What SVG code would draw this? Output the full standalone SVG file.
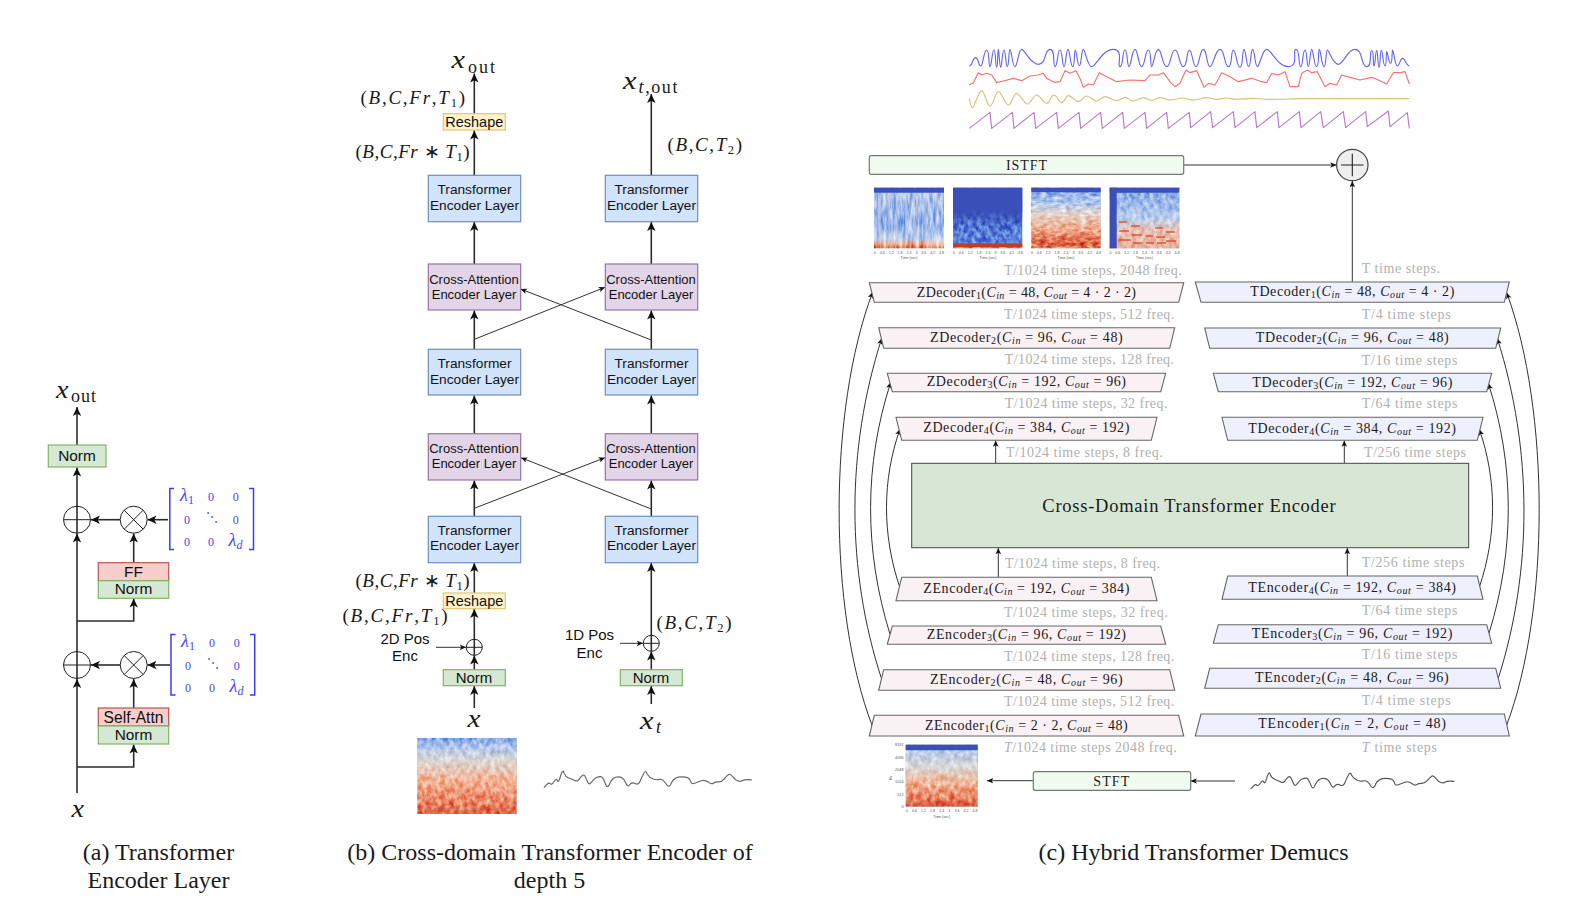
<svg xmlns="http://www.w3.org/2000/svg" width="1572" height="903" viewBox="0 0 1572 903">
<style>
text{font-family:"Liberation Serif","Times New Roman",serif;fill:#1a1a1a}
.s{font-family:"Liberation Sans",Arial,sans-serif;fill:#111}
.c{text-anchor:middle}
.cap{font-size:24px}
.g{font-size:14px;fill:#b0b0b0}
.t{font-size:14px}
.i{font-style:italic}
.sb{font-size:10px}
.m{font-size:19px}
.bx{font-size:25px;font-style:italic}
.ln{font-size:18px}
.bl{font-size:12px;fill:#4646ff}
.bli{font-size:18px;font-style:italic;fill:#4646ff}
.tk{font-size:3.6px;font-family:"Liberation Sans",sans-serif;fill:#555;text-anchor:middle;word-spacing:2.9px}
.tk2{font-size:3.8px;font-family:"Liberation Sans",sans-serif;fill:#555}
.a{fill:none;stroke:#2c2c2c;stroke-width:1.6;marker-end:url(#big)}
.th{fill:none;stroke:#333;stroke-width:1;marker-end:url(#sm)}
.gr{fill:#d5e8d4;stroke:#82b366;stroke-width:1.2}
.rd{fill:#f8cecc;stroke:#b85450;stroke-width:1.2}
.bu{fill:#d2e4fc;stroke:#6c8ebf;stroke-width:1.2}
.pu{fill:#e1d5e7;stroke:#9673a6;stroke-width:1.2}
.ye{fill:#fff2cc;stroke:#e6c56a;stroke-width:1.2}
.z{fill:#faf1f4;stroke:#666;stroke-width:1.1}
.u{fill:#eff0fd;stroke:#666;stroke-width:1.1}
.lt{fill:#f1fcf0;stroke:#777;stroke-width:1.2}
.o{fill:none;stroke:#222;stroke-width:1}
.br{fill:none;stroke:#3c3cf0;stroke-width:1.5}
.wv{fill:none;stroke-width:3.4;stroke-linejoin:round}
</style>
<defs>
<marker id="big" markerUnits="userSpaceOnUse" markerWidth="10" markerHeight="10" viewBox="0 0 10 10" refX="9" refY="5" orient="auto"><path d="M0 .8L9 5L0 9.2L2.3 5z" fill="#111"/></marker>
<marker id="sm" markerUnits="userSpaceOnUse" markerWidth="7" markerHeight="7" viewBox="0 0 10 10" refX="9" refY="5" orient="auto"><path d="M0 1L9 5L0 9L2.3 5z" fill="#111"/></marker>
<linearGradient id="s0" x1="0" y1="0" x2="0" y2="1"><stop offset="0" stop-color="#7fa2e8"/><stop offset=".12" stop-color="#b3c8ec"/><stop offset=".3" stop-color="#dcd6d2"/><stop offset=".55" stop-color="#f2b496"/><stop offset=".8" stop-color="#ec8c6c"/><stop offset="1" stop-color="#dc6648"/></linearGradient>
<linearGradient id="s1" x1="0" y1="0" x2="0" y2="1"><stop offset="0" stop-color="#b5cbef"/><stop offset=".55" stop-color="#8fb0ea"/><stop offset=".85" stop-color="#b8cdf0"/><stop offset=".93" stop-color="#f0b090"/><stop offset="1" stop-color="#e07050"/></linearGradient>
<linearGradient id="s2" x1="0" y1="0" x2="0" y2="1"><stop offset="0" stop-color="#3a50b8"/><stop offset=".35" stop-color="#3a50b8"/><stop offset=".6" stop-color="#4c72d0"/><stop offset="1" stop-color="#6a90e0"/></linearGradient>
<linearGradient id="f2" x1="0" y1="0" x2="0" y2="1"><stop offset="0" stop-color="#3a50b8"/><stop offset=".6" stop-color="#3a50b8"/><stop offset="1" stop-color="#3a50b8" stop-opacity="0"/></linearGradient>
<linearGradient id="s3" x1="0" y1="0" x2="0" y2="1"><stop offset="0" stop-color="#7fa0e6"/><stop offset=".25" stop-color="#b0c8ee"/><stop offset=".45" stop-color="#e6d2c8"/><stop offset=".7" stop-color="#f0a888"/><stop offset=".9" stop-color="#dc6040"/><stop offset="1" stop-color="#e07858"/></linearGradient>
<linearGradient id="s4" x1="0" y1="0" x2="0" y2="1"><stop offset="0" stop-color="#80a4e6"/><stop offset=".5" stop-color="#b8ccee"/><stop offset=".7" stop-color="#e8c4b4"/><stop offset="1" stop-color="#e8b09c"/></linearGradient>
<linearGradient id="s5" x1="0" y1="0" x2="0" y2="1"><stop offset="0" stop-color="#a8c4f0"/><stop offset=".38" stop-color="#dcd8d4"/><stop offset=".62" stop-color="#f0b090"/><stop offset=".88" stop-color="#e88060"/><stop offset="1" stop-color="#d4523a"/></linearGradient>
<filter id="vt" x="0" y="0" width="1" height="1" color-interpolation-filters="sRGB"><feTurbulence type="fractalNoise" baseFrequency=".3 .06" numOctaves="3" seed="4"/><feColorMatrix values="1.2 0 0 0 -.1 1.2 0 0 0 -.1 1.2 0 0 0 -.1 0 0 0 0 1"/><feBlend mode="overlay" in2="SourceGraphic"/><feComposite in2="SourceGraphic" operator="in"/></filter>
<filter id="sf" x="0" y="0" width="1" height="1" color-interpolation-filters="sRGB"><feTurbulence type="fractalNoise" baseFrequency=".22 .16" numOctaves="3" seed="7"/><feColorMatrix values=".9 0 0 0 .05 .9 0 0 0 .05 .9 0 0 0 .05 0 0 0 0 1"/><feBlend mode="overlay" in2="SourceGraphic"/><feComposite in2="SourceGraphic" operator="in"/></filter>
<filter id="hz" x="0" y="0" width="1" height="1" color-interpolation-filters="sRGB"><feTurbulence type="fractalNoise" baseFrequency=".15 .3" numOctaves="3" seed="9"/><feColorMatrix values="1.1 0 0 0 -.05 1.1 0 0 0 -.05 1.1 0 0 0 -.05 0 0 0 0 1"/><feBlend mode="overlay" in2="SourceGraphic"/><feComposite in2="SourceGraphic" operator="in"/></filter>
<path id="wave" d="M242 657Q255 640 260 645Q265 650 271.5 639Q278 628 281.5 636.5Q285 645 291.5 620Q298 600 301.5 615Q305 625 315 628.5Q325 632 332.5 636Q340 640 345 632.5Q350 625 355 621Q360 617 364 626Q368 635 371.5 642.5Q375 650 382.5 640Q390 630 396.5 627Q403 624 409 624.5Q415 625 421.5 642.5Q428 665 436.5 642.5Q445 625 460 625Q475 625 481.5 641Q488 657 494 648.5Q500 640 510 645Q520 650 525 637.5Q530 625 535 616Q540 602 546 617.5Q552 628 563.5 631.5Q575 635 582.5 632.5Q590 630 600 644Q610 663 617.5 641.5Q625 625 647.5 625Q670 625 672.5 636.5Q675 648 685 644Q695 640 705 636.5Q715 633 725 640.5Q735 648 740 644Q745 640 755 640Q765 640 772.5 631Q780 622 785 618.5Q790 615 797.5 625Q805 635 812.5 637.5Q820 640 826 636Q832 632 853 634"/>
</defs>

<g id="connectors">
<path class="a" d="M77 793V679"/><path class="a" d="M77 679V533.5"/><path class="a" d="M77 533.5V467.5"/><path class="a" d="M77 445V407"/>
<path class="a" d="M120 519.7H91"/><path class="a" d="M168 519.7H147.5"/><path class="a" d="M133.7 562.7V533.5"/><path class="a" d="M77 621H133.7V598.5"/>
<path class="a" d="M120 665H91"/><path class="a" d="M170 665H147.5"/><path class="a" d="M133.7 708V679"/><path class="a" d="M77 767H133.7V744.5"/>
<path class="a" d="M474.3 113.7V73.5"/><path class="a" d="M474.3 175.3V130.5"/><path class="a" d="M474.3 264V222"/><path class="a" d="M474.3 349.3V310.5"/><path class="a" d="M474.3 433.7V395.5"/><path class="a" d="M474.3 516.3V480.5"/><path class="a" d="M474.3 593V563"/><path class="a" d="M474.3 655.5V609"/><path class="a" d="M474.3 669.7V655.5"/><path class="a" d="M474.3 708V686"/>
<path class="a" d="M651.3 175.3V94"/><path class="a" d="M651.3 264V222"/><path class="a" d="M651.3 349.3V310.5"/><path class="a" d="M651.3 433.7V395.5"/><path class="a" d="M651.3 516.3V480.5"/><path class="a" d="M651.3 651.5V563"/><path class="a" d="M651.3 669.7V651.5"/><path class="a" d="M651.3 704V686"/>
<path class="th" d="M474.3 339.3L605 287.3"/><path class="th" d="M651.3 340L520.7 289"/><path class="th" d="M474.3 508.3L605 457.7"/><path class="th" d="M651.3 509L521 457.7"/>
<path class="th" d="M436 647.3H466"/><path class="th" d="M620 643.3H643"/>
<path class="th" d="M1183.7 165H1336.5"/><path class="th" d="M1352.3 281.7V181"/>
<path class="th" d="M995.7 463.3V440.5"/><path class="th" d="M998.3 577.3V548"/><path class="th" d="M1344.3 463.3V440.5"/><path class="th" d="M1347.3 576V548"/>
<path class="th" d="M1033.3 780.7H987"/><path class="th" d="M1235 781H1190.7"/>
<path class="th" d="M872.3 726C828 610 828 410 872.7 292"/>
<path class="th" d="M881.7 679.3C846 570 846 450 881.7 338.3"/>
<path class="th" d="M890 634.3C864 550 864 465 890.7 382.3"/>
<path class="th" d="M900 588C882 535 882 480 900 429"/>
<path class="th" d="M1506.7 725C1550 610 1550 410 1506.7 292.7"/>
<path class="th" d="M1498.3 678.3C1532.7 570 1532.7 450 1497.3 338.3"/>
<path class="th" d="M1489 633.3C1514.8 550 1514.8 465 1488.3 383.3"/>
<path class="th" d="M1479.3 587.3C1497 535 1497 480 1479.3 429.3"/>
</g>

<g id="panel-a">
<g id="a-out"><text class="bx" x="56" y="398" textLength="12.5" lengthAdjust="spacingAndGlyphs">x</text><text class="ln" x="71" y="402" textLength="25">out</text></g>
<g id="a-norm-top"><rect class="gr" x="48.3" y="445" width="57.7" height="22"/><text class="s c" x="77" y="461.3" font-size="15.4">Norm</text></g>
<g id="a-add1"><circle class="o" cx="77" cy="519.7" r="13.5"/><path class="o" d="M63.5 519.7H90.5"/></g>
<g id="a-mul1"><circle class="o" cx="133.7" cy="519.7" r="13.5"/><path class="o" d="M124.2 510.2L143.2 529.2M143.2 510.2L124.2 529.2"/></g>
<g id="a-matrix1">
<path class="br" d="M174 488.5H169.8V549.5H174M249 488.5H253.5V549.5H249"/>
<text class="bli c" x="187" y="501">λ<tspan font-size="12" font-style="normal" dy="3">1</tspan></text><text class="bl c" x="211" y="501">0</text><text class="bl c" x="235.7" y="501">0</text>
<text class="bl c" x="187" y="523.5">0</text><text class="bl c" x="212" y="521" font-family="DejaVu Sans">⋱</text><text class="bl c" x="235.7" y="523.5">0</text>
<text class="bl c" x="187" y="545.7">0</text><text class="bl c" x="211" y="545.7">0</text><text class="bli c" x="235.5" y="545.7">λ<tspan font-size="12" dy="3">d</tspan></text>
</g>
<g id="a-ff"><rect class="rd" x="98.3" y="562.7" width="70.4" height="18"/><text class="s c" x="133.5" y="576.5" font-size="15.5">FF</text></g>
<g id="a-norm1"><rect class="gr" x="98.3" y="580.7" width="70.4" height="17.6"/><text class="s c" x="133.5" y="594" font-size="15.4">Norm</text></g>
<g id="a-add2"><circle class="o" cx="77" cy="665" r="13.5"/><path class="o" d="M63.5 665H90.5"/></g>
<g id="a-mul2"><circle class="o" cx="133.7" cy="665" r="13.5"/><path class="o" d="M124.2 655.5L143.2 674.5M143.2 655.5L124.2 674.5"/></g>
<g id="a-matrix2">
<path class="br" d="M175.5 634.5H171V695H175.5M250 634.5H254.7V695H250"/>
<text class="bli c" x="188" y="647">λ<tspan font-size="12" font-style="normal" dy="3">1</tspan></text><text class="bl c" x="212" y="647">0</text><text class="bl c" x="236.7" y="647">0</text>
<text class="bl c" x="188" y="669.5">0</text><text class="bl c" x="213" y="667" font-family="DejaVu Sans">⋱</text><text class="bl c" x="236.7" y="669.5">0</text>
<text class="bl c" x="188" y="691.7">0</text><text class="bl c" x="212" y="691.7">0</text><text class="bli c" x="236.5" y="691.7">λ<tspan font-size="12" dy="3">d</tspan></text>
</g>
<g id="a-attn"><rect class="rd" x="98.3" y="708" width="70.4" height="18"/><text class="s c" x="133.5" y="722.5" font-size="15.6">Self-Attn</text></g>
<g id="a-norm2"><rect class="gr" x="98.3" y="726" width="70.4" height="18"/><text class="s c" x="133.5" y="739.8" font-size="15.4">Norm</text></g>
<g id="a-x"><text class="bx" x="71.5" y="817" textLength="12.5" lengthAdjust="spacingAndGlyphs">x</text></g>
</g>

<g id="panel-b">
<g id="b-out"><text class="bx" x="451.5" y="68.3" textLength="13.5" lengthAdjust="spacingAndGlyphs">x</text><text class="ln" x="468" y="72.5" textLength="27">out</text></g>
<g id="b-tout"><text class="bx" x="623" y="89" textLength="13.5" lengthAdjust="spacingAndGlyphs">x</text><text class="ln i" x="638.5" y="92.5" textLength="39">t<tspan font-style="normal">,out</tspan></text></g>
<g id="b-reshape-top"><rect class="ye" x="443.3" y="113.7" width="62" height="16.3"/><text class="s c" x="474.3" y="127" font-size="14.5">Reshape</text></g>
<text class="m" x="360.5" y="104.3" textLength="104.5">(<tspan class="i">B</tspan>,<tspan class="i">C</tspan>,<tspan class="i">Fr</tspan>,<tspan class="i">T</tspan><tspan font-size="12.5" dy="3">1</tspan><tspan dy="-3">)</tspan></text>
<text class="m" x="355.5" y="157.7" textLength="114">(<tspan class="i">B</tspan>,<tspan class="i">C</tspan>,<tspan class="i">Fr</tspan> ∗ <tspan class="i">T</tspan><tspan font-size="12.5" dy="3">1</tspan><tspan dy="-3">)</tspan></text>
<text class="m" x="667.5" y="151" textLength="74.5">(<tspan class="i">B</tspan>,<tspan class="i">C</tspan>,<tspan class="i">T</tspan><tspan font-size="12.5" dy="3">2</tspan><tspan dy="-3">)</tspan></text>

<g id="b-te1"><rect class="bu" x="428.3" y="175.3" width="92.4" height="46.4"/><text class="s c" x="474.5" y="194.3" font-size="13.7">Transformer</text><text class="s c" x="474.5" y="210" font-size="13.7">Encoder Layer</text></g>
<g id="b-te1t"><rect class="bu" x="605.3" y="175.3" width="92.4" height="46.4"/><text class="s c" x="651.5" y="194.3" font-size="13.7">Transformer</text><text class="s c" x="651.5" y="210" font-size="13.7">Encoder Layer</text></g>
<g id="b-ca1"><rect class="pu" x="428.3" y="264" width="92.4" height="46"/><text class="s c" x="474" y="284" font-size="13">Cross-Attention</text><text class="s c" x="474" y="299" font-size="13">Encoder Layer</text></g>
<g id="b-ca1t"><rect class="pu" x="605.3" y="264" width="92.4" height="46"/><text class="s c" x="651" y="284" font-size="13">Cross-Attention</text><text class="s c" x="651" y="299" font-size="13">Encoder Layer</text></g>
<g id="b-te2"><rect class="bu" x="428.3" y="349.3" width="92.4" height="45.7"/><text class="s c" x="474.5" y="368" font-size="13.7">Transformer</text><text class="s c" x="474.5" y="383.7" font-size="13.7">Encoder Layer</text></g>
<g id="b-te2t"><rect class="bu" x="605.3" y="349.3" width="92.4" height="45.7"/><text class="s c" x="651.5" y="368" font-size="13.7">Transformer</text><text class="s c" x="651.5" y="383.7" font-size="13.7">Encoder Layer</text></g>
<g id="b-ca2"><rect class="pu" x="428.3" y="433.7" width="92.4" height="46.3"/><text class="s c" x="474" y="453" font-size="13">Cross-Attention</text><text class="s c" x="474" y="468" font-size="13">Encoder Layer</text></g>
<g id="b-ca2t"><rect class="pu" x="605.3" y="433.7" width="92.4" height="46.3"/><text class="s c" x="651" y="453" font-size="13">Cross-Attention</text><text class="s c" x="651" y="468" font-size="13">Encoder Layer</text></g>
<g id="b-te3"><rect class="bu" x="428.3" y="516.3" width="92.4" height="46.4"/><text class="s c" x="474.5" y="534.7" font-size="13.7">Transformer</text><text class="s c" x="474.5" y="550.4" font-size="13.7">Encoder Layer</text></g>
<g id="b-te3t"><rect class="bu" x="605.3" y="516.3" width="92.4" height="46.4"/><text class="s c" x="651.5" y="534.7" font-size="13.7">Transformer</text><text class="s c" x="651.5" y="550.4" font-size="13.7">Encoder Layer</text></g>

<text class="m" x="355.5" y="586.7" textLength="114">(<tspan class="i">B</tspan>,<tspan class="i">C</tspan>,<tspan class="i">Fr</tspan> ∗ <tspan class="i">T</tspan><tspan font-size="12.5" dy="3">1</tspan><tspan dy="-3">)</tspan></text>
<g id="b-reshape-bot"><rect class="ye" x="443.3" y="593" width="62" height="15.7"/><text class="s c" x="474.3" y="606" font-size="14.5">Reshape</text></g>
<text class="m" x="342.5" y="622.2" textLength="105">(<tspan class="i">B</tspan>,<tspan class="i">C</tspan>,<tspan class="i">Fr</tspan>,<tspan class="i">T</tspan><tspan font-size="12.5" dy="3">1</tspan><tspan dy="-3">)</tspan></text>
<text class="m" x="656.5" y="629" textLength="75">(<tspan class="i">B</tspan>,<tspan class="i">C</tspan>,<tspan class="i">T</tspan><tspan font-size="12.5" dy="3">2</tspan><tspan dy="-3">)</tspan></text>
<g id="b-pos2d"><text class="s c" x="405" y="643.5" font-size="15">2D Pos</text><text class="s c" x="405" y="661.2" font-size="15">Enc</text></g>
<g id="b-pos1d"><text class="s c" x="589.5" y="639.5" font-size="15">1D Pos</text><text class="s c" x="589.5" y="658" font-size="15">Enc</text></g>
<g id="b-add"><circle class="o" cx="474.3" cy="647.3" r="8"/><path class="o" d="M466.3 647.3H482.3"/></g>
<g id="b-addt"><circle class="o" cx="651.3" cy="643.3" r="8"/><path class="o" d="M643.3 643.3H659.3"/></g>
<g id="b-norm"><rect class="gr" x="443.3" y="669.7" width="62" height="16"/><text class="s c" x="474" y="683" font-size="15">Norm</text></g>
<g id="b-normt"><rect class="gr" x="620.3" y="669.7" width="62" height="16"/><text class="s c" x="651" y="683" font-size="15">Norm</text></g>
<g id="b-x"><text class="bx" x="467.5" y="726.7" textLength="13" lengthAdjust="spacingAndGlyphs">x</text></g>
<g id="b-xt"><text class="bx" x="640" y="729" textLength="13.5" lengthAdjust="spacingAndGlyphs">x</text><text class="ln i" x="656" y="733">t</text></g>
<rect id="b-spec" x="417.3" y="738" width="99.4" height="76" fill="url(#s0)" filter="url(#sf)"/>
<use id="b-wave" href="#wave" class="wv" stroke="#666" transform="translate(461.7 564.3) scale(.34)"/>
</g>

<g id="panel-c">
<g transform="translate(830 30) scale(.33333)" class="wv">
<path id="wave-blue" stroke="#6464f8" d="M418 108C427 108 428 83 437 83S444.5 108 452 108S461 60 470 60S475 110 480 110S486 60 492 60S496 112 500 112S502.5 58 505 58S508.5 112 512 112S517 60 522 60S527 110 532 110S536 58 540 58S547.5 110 555 110S565 58 575 58S600 103 625 103S642 58 660 58S667 110 675 110S682 60 690 60S696 110 702 110S708 58 714 58S721 110 728 110S732 60 736 60S742 108 748 108S754 58 760 58S772 110 785 110S817 58 850 58S860 110 870 110S877 60 885 60S891 110 897 110S906 58 915 58S925 110 935 110S945 60 955 60S960 110 965 110S975 58 985 58S997 110 1010 110S1022 60 1035 60S1047 110 1060 110S1069 60 1078 60S1088 110 1098 110S1109 58 1120 58S1130 110 1140 110S1155 58 1170 58S1182 110 1195 110S1202 60 1210 60S1220 112 1230 112S1236 58 1242 58S1249 110 1256 110S1262 58 1268 58S1275 110 1282 110S1296 58 1310 58S1342 110 1375 110S1386 58 1398 58S1405 110 1412 110S1418 60 1425 60S1430 110 1435 110S1440 58 1445 58S1452 110 1460 110S1464 58 1468 58S1475 110 1482 110S1487 60 1492 60S1508 103 1525 103S1550 58 1575 58S1592 110 1610 110S1617 62 1625 62S1628 108 1632 108S1636 62 1640 62S1643 112 1647 112S1650 60 1654 60S1659 108 1665 108S1667 65 1670 65S1676 100 1682 100S1685 60 1688 60S1695 108 1702 108S1710 85 1718 85S1728 108 1738 108"/>
<polyline id="wave-red" stroke="#f87070" points="418,165 430,158 445,128 455,135 470,130 485,135 500,158 520,153 550,145 575,152 600,138 625,135 640,130 650,145 672,157 690,155 705,122 720,130 738,122 752,150 760,172 775,162 790,165 808,128 830,140 860,155 900,150 945,152 960,135 985,135 1000,128 1020,155 1035,170 1050,160 1068,120 1080,128 1100,122 1122,172 1135,160 1155,165 1175,128 1200,140 1225,155 1265,145 1295,155 1310,158 1325,130 1345,135 1365,125 1380,170 1405,170 1415,130 1432,120 1445,128 1462,125 1485,170 1500,160 1520,165 1535,135 1560,142 1590,150 1625,142 1645,150 1670,162 1690,128 1710,128 1725,125 1738,162"/>
<path id="wave-yellow" stroke="#d2c478" d="M418 205C421 225 424 233 428 233S446 182 455 182S470 228 480 228S495 185 505 185S525 225 535 225S550 190 560 190S582 222 592 222S610 195 620 195S640 220 650 220S662 195 672 195S685 218 695 218S705 197 715 197S735 215 745 215S760 198 770 198S790 213 800 213S815 200 825 200S850 212 860 212S875 202 885 202S900 213 910 213S930 203 940 203S955 211 965 211S980 203 990 203S1010 210 1020 210S1050 204 1060 204S1080 212 1095 210S1120 203 1130 203S1150 208 1160 208S1180 204 1190 204S1210 208 1220 208S1250 205 1265 205S1300 208 1320 208S1400 206 1420 206H1738"/>
<polyline id="wave-purple" stroke="#b878cc" points="418,295 480,247 485,295 547,247 552,295 612,247 617,295 680,247 685,295 747,247 752,295 812,247 817,295 878,247 883,295 945,247 950,295 1010,247 1015,295 1078,247 1082,293 1142,245 1148,293 1210,245 1215,293 1275,245 1280,293 1342,245 1347,293 1408,245 1413,293 1472,245 1480,293 1540,245 1547,293 1607,245 1612,290 1675,243 1680,290 1732,248 1738,295"/>
</g>
<g id="istft"><rect class="lt" x="869.3" y="155.7" width="314.4" height="18.6" rx="2"/><text class="t" x="1006" y="169.8" textLength="41">ISTFT</text></g>
<g id="add-out"><circle cx="1352.3" cy="165" r="15.7" fill="#eee" stroke="#444" stroke-width="1.2"/><path d="M1341 165H1363.6M1352.3 153.7V176.3" fill="none" stroke="#222" stroke-width="1.1"/></g>
<g id="specs">
<rect x="874" y="187.7" width="70" height="60.6" fill="url(#s1)" filter="url(#vt)"/>
<path d="M880 194v50M889 196v48M897 194v50M906 196v48M914 194v50M926 196v48M936 194v50" fill="none" stroke="#e2cfc6" stroke-width="1.4" opacity=".6"/>
<rect x="874" y="187.7" width="70" height="5" fill="#3a50b8"/>
<rect x="953" y="187.7" width="69.3" height="60.6" fill="url(#s2)" filter="url(#sf)"/>
<rect x="953" y="187.7" width="69.3" height="36" fill="url(#f2)"/>
<rect x="953" y="243.3" width="69.3" height="3.8" fill="#c83a20"/>
<rect x="1031.3" y="187.7" width="69.4" height="60.6" fill="url(#s3)" filter="url(#hz)"/>
<rect x="1031.3" y="187.7" width="69.4" height="4.5" fill="#3a50b8"/>
<rect x="1109.7" y="187.7" width="69.6" height="60.6" fill="url(#s4)" filter="url(#sf)"/>
<rect x="1109.7" y="187.7" width="69.6" height="5" fill="#3a50b8"/>
<rect x="1109.7" y="187.7" width="7" height="60.6" fill="#3a50b8"/>
<path d="M1119 222h8M1119 231h10M1119 240h12M1131 226h9M1132 235h10M1133 243h9M1146 236h7M1146 243h8M1155 228h8M1156 237h9M1157 243h9M1166 232h9M1166 241h10" fill="none" stroke="#d8482c" stroke-width="1.3" opacity=".85"/>
<text class="tk" x="909" y="253.5">0 0.6 1.2 1.8 2.4 3 3.6 4.2 4.8</text><text class="tk" x="988" y="253.5">0 0.6 1.2 1.8 2.4 3 3.6 4.2 4.8</text><text class="tk" x="1066" y="253.5">0 0.6 1.2 1.8 2.4 3 3.6 4.2 4.8</text><text class="tk" x="1144.5" y="253.5">0 0.6 1.2 1.8 2.4 3 3.6 4.2 4.8</text>
<text class="tk" x="909" y="259" style="word-spacing:0">Time (sec)</text><text class="tk" x="988" y="259" style="word-spacing:0">Time (sec)</text><text class="tk" x="1066" y="259" style="word-spacing:0">Time (sec)</text><text class="tk" x="1144.5" y="259" style="word-spacing:0">Time (sec)</text>
</g>

<text class="g" x="1004" y="275" textLength="177.7">T/1024 time steps, 2048 freq.</text>
<text class="g" x="1004" y="318.7" textLength="170.3">T/1024 time steps, 512 freq.</text>
<text class="g" x="1004.7" y="364" textLength="169.3">T/1024 time steps, 128 freq.</text>
<text class="g" x="1004.7" y="408.3" textLength="162.7">T/1024 time steps, 32 freq.</text>
<text class="g" x="1006" y="457" textLength="156.7">T/1024 time steps, 8 freq.</text>
<text class="g" x="1005" y="568.3" textLength="155">T/1024 time steps, 8 freq.</text>
<text class="g" x="1004" y="616.7" textLength="163.7">T/1024 time steps, 32 freq.</text>
<text class="g" x="1004" y="661" textLength="170.3">T/1024 time steps, 128 freq.</text>
<text class="g" x="1004" y="706.3" textLength="170.3">T/1024 time steps, 512 freq.</text>
<text class="g" x="1004" y="752" textLength="172.7"><tspan class="i">T</tspan>/1024 time steps 2048 freq.</text>
<text class="g" x="1361.7" y="273.3" textLength="78.3">T time steps.</text>
<text class="g" x="1361.7" y="319.3" textLength="89">T/4 time steps</text>
<text class="g" x="1361.7" y="364.7" textLength="95.7">T/16 time steps</text>
<text class="g" x="1361.7" y="408.3" textLength="95.7">T/64 time steps</text>
<text class="g" x="1364" y="456.7" textLength="102">T/256 time steps</text>
<text class="g" x="1361.7" y="567" textLength="102.7">T/256 time steps</text>
<text class="g" x="1361.7" y="615.3" textLength="95.7">T/64 time steps</text>
<text class="g" x="1361.7" y="659" textLength="95.7">T/16 time steps</text>
<text class="g" x="1361.7" y="705" textLength="89">T/4 time steps</text>
<text class="g" x="1361.7" y="752" textLength="75.3"><tspan class="i">T</tspan> time steps</text>

<g id="zdec1"><polygon class="z" points="869.3,282.7 1183.7,282.7 1178.7,302.3 874.3,302.3"/><text class="t" x="916.7" y="296.7" textLength="219.3">ZDecoder<tspan class="sb" dy="2">1</tspan><tspan dy="-2">(</tspan><tspan class="i">C</tspan><tspan class="sb i" dy="2">in</tspan><tspan dy="-2"> = 48, </tspan><tspan class="i">C</tspan><tspan class="sb i" dy="2">out</tspan><tspan dy="-2"> = 4 · 2 · 2)</tspan></text></g>
<g id="zdec2"><polygon class="z" points="878.7,327.7 1174.7,327.7 1169.7,348.3 883.7,348.3"/><text class="t" x="930" y="341.7" textLength="192.7">ZDecoder<tspan class="sb" dy="2">2</tspan><tspan dy="-2">(</tspan><tspan class="i">C</tspan><tspan class="sb i" dy="2">in</tspan><tspan dy="-2"> = 96, </tspan><tspan class="i">C</tspan><tspan class="sb i" dy="2">out</tspan><tspan dy="-2"> = 48)</tspan></text></g>
<g id="zdec3"><polygon class="z" points="887.3,373.3 1165.7,373.3 1160.7,391.7 892.3,391.7"/><text class="t" x="926.7" y="385.7" textLength="199.3">ZDecoder<tspan class="sb" dy="2">3</tspan><tspan dy="-2">(</tspan><tspan class="i">C</tspan><tspan class="sb i" dy="2">in</tspan><tspan dy="-2"> = 192, </tspan><tspan class="i">C</tspan><tspan class="sb i" dy="2">out</tspan><tspan dy="-2"> = 96)</tspan></text></g>
<g id="zdec4"><polygon class="z" points="896,417.3 1157,417.3 1151.3,440.3 901.7,440.3"/><text class="t" x="923.3" y="432.3" textLength="206">ZDecoder<tspan class="sb" dy="2">4</tspan><tspan dy="-2">(</tspan><tspan class="i">C</tspan><tspan class="sb i" dy="2">in</tspan><tspan dy="-2"> = 384, </tspan><tspan class="i">C</tspan><tspan class="sb i" dy="2">out</tspan><tspan dy="-2"> = 192)</tspan></text></g>
<g id="tdec1"><polygon class="u" points="1195.3,282 1509.3,282 1504.3,302.3 1201,302.3"/><text class="t" x="1250.3" y="296" textLength="204">TDecoder<tspan class="sb" dy="2">1</tspan><tspan dy="-2">(</tspan><tspan class="i">C</tspan><tspan class="sb i" dy="2">in</tspan><tspan dy="-2"> = 48, </tspan><tspan class="i">C</tspan><tspan class="sb i" dy="2">out</tspan><tspan dy="-2"> = 4 · 2)</tspan></text></g>
<g id="tdec2"><polygon class="u" points="1204.7,328 1500.7,328 1495.7,348.3 1209.7,348.3"/><text class="t" x="1255.7" y="342.3" textLength="193">TDecoder<tspan class="sb" dy="2">2</tspan><tspan dy="-2">(</tspan><tspan class="i">C</tspan><tspan class="sb i" dy="2">in</tspan><tspan dy="-2"> = 96, </tspan><tspan class="i">C</tspan><tspan class="sb i" dy="2">out</tspan><tspan dy="-2"> = 48)</tspan></text></g>
<g id="tdec3"><polygon class="u" points="1213.3,373.3 1491.7,373.3 1486.7,391.7 1218.3,391.7"/><text class="t" x="1252.3" y="386.5" textLength="200">TDecoder<tspan class="sb" dy="2">3</tspan><tspan dy="-2">(</tspan><tspan class="i">C</tspan><tspan class="sb i" dy="2">in</tspan><tspan dy="-2"> = 192, </tspan><tspan class="i">C</tspan><tspan class="sb i" dy="2">out</tspan><tspan dy="-2"> = 96)</tspan></text></g>
<g id="tdec4"><polygon class="u" points="1222,417.3 1483,417.3 1477.3,440.3 1227.7,440.3"/><text class="t" x="1248.3" y="432.6" textLength="207.7">TDecoder<tspan class="sb" dy="2">4</tspan><tspan dy="-2">(</tspan><tspan class="i">C</tspan><tspan class="sb i" dy="2">in</tspan><tspan dy="-2"> = 384, </tspan><tspan class="i">C</tspan><tspan class="sb i" dy="2">out</tspan><tspan dy="-2"> = 192)</tspan></text></g>

<g id="cross-domain"><rect x="911.7" y="463.3" width="557" height="84.4" fill="#d7e6d5" stroke="#444" stroke-width="1"/><text x="1042.3" y="511.7" font-size="18.5" textLength="293.4">Cross-Domain Transformer Encoder</text></g>

<g id="zenc4"><polygon class="z" points="901.7,577.3 1151.3,577.3 1157,600.7 896,600.7"/><text class="t" x="923.3" y="592.7" textLength="206">ZEncoder<tspan class="sb" dy="2">4</tspan><tspan dy="-2">(</tspan><tspan class="i">C</tspan><tspan class="sb i" dy="2">in</tspan><tspan dy="-2"> = 192, </tspan><tspan class="i">C</tspan><tspan class="sb i" dy="2">out</tspan><tspan dy="-2"> = 384)</tspan></text></g>
<g id="zenc3"><polygon class="z" points="892.3,626 1160.7,626 1165.7,644.3 887.3,644.3"/><text class="t" x="926.7" y="638.8" textLength="199.3">ZEncoder<tspan class="sb" dy="2">3</tspan><tspan dy="-2">(</tspan><tspan class="i">C</tspan><tspan class="sb i" dy="2">in</tspan><tspan dy="-2"> = 96, </tspan><tspan class="i">C</tspan><tspan class="sb i" dy="2">out</tspan><tspan dy="-2"> = 192)</tspan></text></g>
<g id="zenc2"><polygon class="z" points="883.7,669.7 1169.7,669.7 1174.7,690.3 878.7,690.3"/><text class="t" x="930" y="683.8" textLength="192.7">ZEncoder<tspan class="sb" dy="2">2</tspan><tspan dy="-2">(</tspan><tspan class="i">C</tspan><tspan class="sb i" dy="2">in</tspan><tspan dy="-2"> = 48, </tspan><tspan class="i">C</tspan><tspan class="sb i" dy="2">out</tspan><tspan dy="-2"> = 96)</tspan></text></g>
<g id="zenc1"><polygon class="z" points="874.3,715.3 1178.7,715.3 1183.7,736 869.3,736"/><text class="t" x="925" y="729.5" textLength="202.7">ZEncoder<tspan class="sb" dy="2">1</tspan><tspan dy="-2">(</tspan><tspan class="i">C</tspan><tspan class="sb i" dy="2">in</tspan><tspan dy="-2"> = 2 · 2, </tspan><tspan class="i">C</tspan><tspan class="sb i" dy="2">out</tspan><tspan dy="-2"> = 48)</tspan></text></g>
<g id="tenc4"><polygon class="u" points="1227.7,576 1477.3,576 1483,599.3 1222,599.3"/><text class="t" x="1248.3" y="591.7" textLength="207.7">TEncoder<tspan class="sb" dy="2">4</tspan><tspan dy="-2">(</tspan><tspan class="i">C</tspan><tspan class="sb i" dy="2">in</tspan><tspan dy="-2"> = 192, </tspan><tspan class="i">C</tspan><tspan class="sb i" dy="2">out</tspan><tspan dy="-2"> = 384)</tspan></text></g>
<g id="tenc3"><polygon class="u" points="1218.3,624.7 1486.7,624.7 1491.7,643.3 1213.3,643.3"/><text class="t" x="1251.7" y="637.7" textLength="200.6">TEncoder<tspan class="sb" dy="2">3</tspan><tspan dy="-2">(</tspan><tspan class="i">C</tspan><tspan class="sb i" dy="2">in</tspan><tspan dy="-2"> = 96, </tspan><tspan class="i">C</tspan><tspan class="sb i" dy="2">out</tspan><tspan dy="-2"> = 192)</tspan></text></g>
<g id="tenc2"><polygon class="u" points="1209.7,668.3 1495.7,668.3 1500.7,688.3 1204.7,688.3"/><text class="t" x="1255" y="682.3" textLength="193.7">TEncoder<tspan class="sb" dy="2">2</tspan><tspan dy="-2">(</tspan><tspan class="i">C</tspan><tspan class="sb i" dy="2">in</tspan><tspan dy="-2"> = 48, </tspan><tspan class="i">C</tspan><tspan class="sb i" dy="2">out</tspan><tspan dy="-2"> = 96)</tspan></text></g>
<g id="tenc1"><polygon class="u" points="1201,714 1504.3,714 1509.3,736 1195.3,736"/><text class="t" x="1258.3" y="728.3" textLength="187.7">TEncoder<tspan class="sb" dy="2">1</tspan><tspan dy="-2">(</tspan><tspan class="i">C</tspan><tspan class="sb i" dy="2">in</tspan><tspan dy="-2"> = 2, </tspan><tspan class="i">C</tspan><tspan class="sb i" dy="2">out</tspan><tspan dy="-2"> = 48)</tspan></text></g>

<g id="stft"><rect class="lt" x="1033.3" y="771.7" width="157.4" height="18.6" rx="2"/><text class="t" x="1093.3" y="785.7" textLength="36">STFT</text></g>
<g id="spec-in">
<rect x="905.7" y="744.7" width="72" height="62" fill="url(#s5)" filter="url(#sf)"/>
<rect x="905.7" y="744.7" width="72" height="5.5" fill="#3a50b8"/>
<text class="tk2" x="903.5" y="746.2" text-anchor="end">8192</text><text class="tk2" x="903.5" y="758.8" text-anchor="end">4096</text><text class="tk2" x="903.5" y="770.8" text-anchor="end">2048</text><text class="tk2" x="903.5" y="783.2" text-anchor="end">1024</text><text class="tk2" x="903.5" y="796.2" text-anchor="end">512</text><text class="tk2" x="903.5" y="808.2" text-anchor="end">0</text>
<text class="tk2" x="891.5" y="778" transform="rotate(-90 891.5 778)" text-anchor="middle">Hz</text>
<text class="tk" x="941.7" y="812" style="word-spacing:3.1px">0 0.6 1.2 1.8 2.4 3 3.6 4.2 4.8</text>
<text class="tk" x="941.7" y="817.5" style="word-spacing:0">Time (sec)</text>
</g>
<use id="c-wave" href="#wave" class="wv" stroke="#555" transform="translate(1170 570) scale(.33333)"/>
</g>

<g id="captions">
<text class="cap c" x="158.5" y="860">(a) Transformer</text>
<text class="cap c" x="158.5" y="888">Encoder Layer</text>
<text class="cap c" x="550" y="860">(b) Cross-domain Transformer Encoder of</text>
<text class="cap c" x="549.5" y="888">depth 5</text>
<text class="cap c" x="1193.5" y="860">(c) Hybrid Transformer Demucs</text>
</g>
</svg>
